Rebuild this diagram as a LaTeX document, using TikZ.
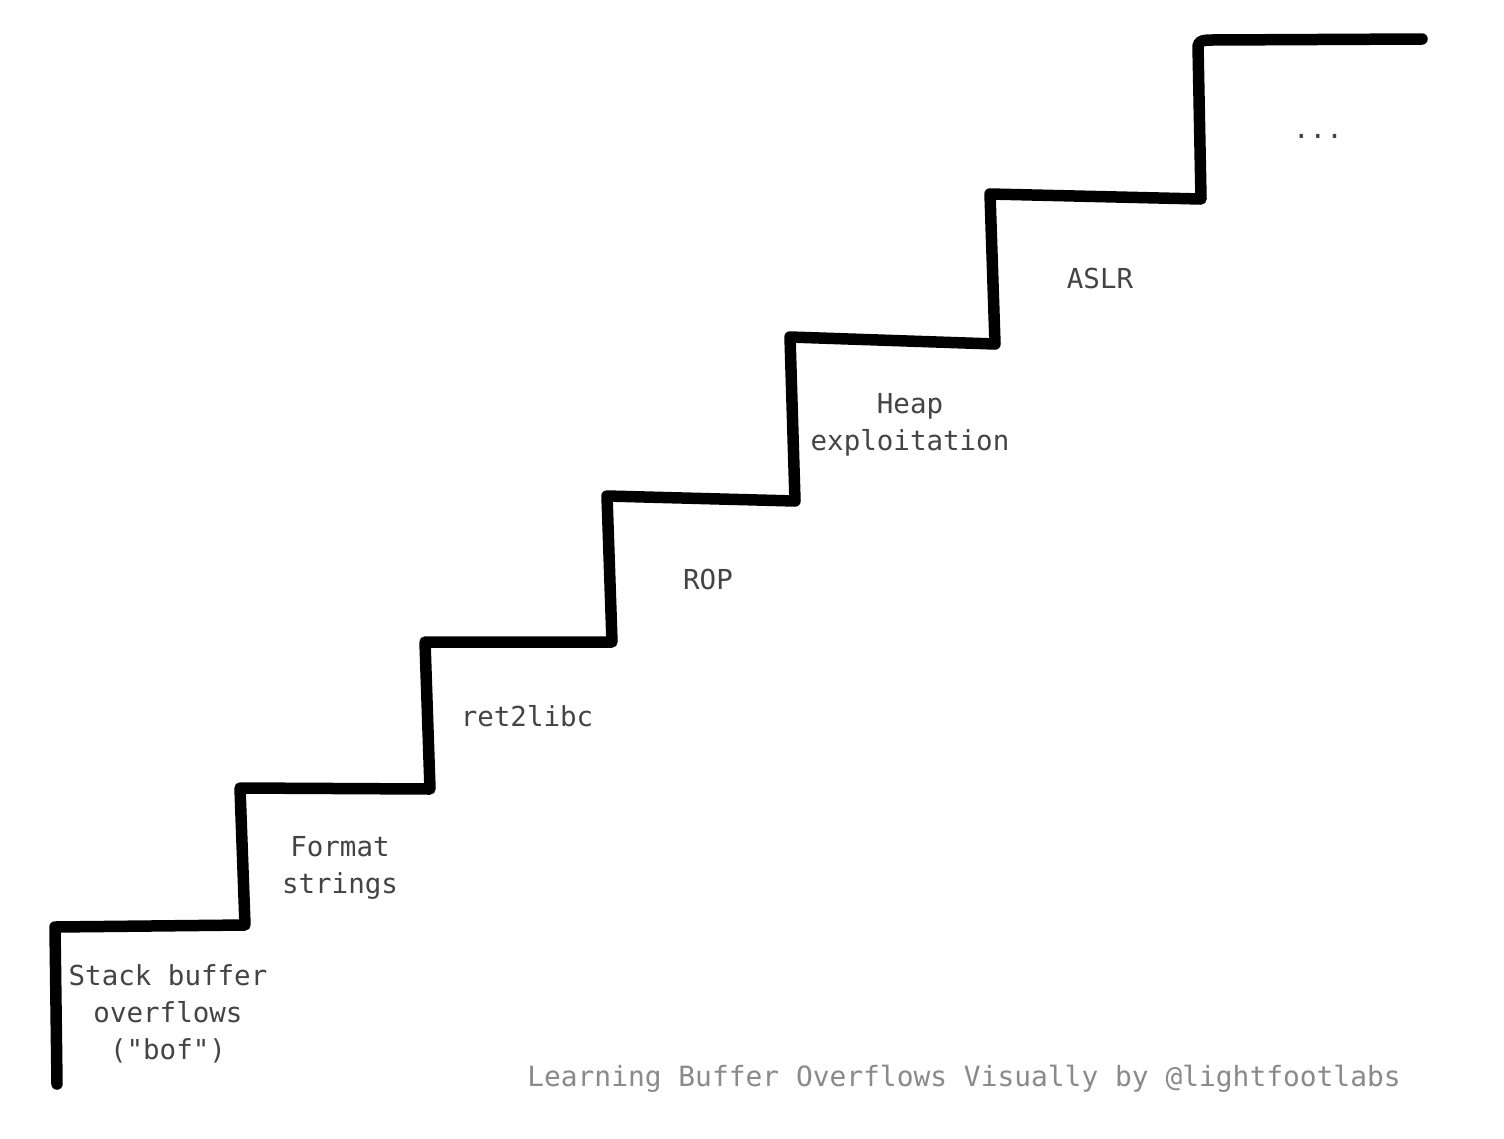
\documentclass[tikz,border=0pt]{standalone}
\usepackage{fontspec}
\setmonofont{DejaVu Sans Mono}
\definecolor{labelgray}{HTML}{444444}
\definecolor{footgray}{HTML}{8A8A8A}
\begin{document}
\begin{tikzpicture}[x=1pt,y=-1pt,
  stair/.style={line width=11.5pt,line cap=round,line join=round,black},
  lbl/.style={font=\ttfamily\fontsize{27.5}{37}\selectfont,text=labelgray,align=center,inner sep=0pt},
  foot/.style={font=\ttfamily\fontsize{27.9}{37}\selectfont,text=footgray,inner sep=0pt}]
\useasboundingbox[fill=white] (0,0) rectangle (1504,1138);
\draw[stair] (57,1084) -- (55,927) -- (245,925) -- (240,788) -- (430,789)
  -- (425,642) -- (612,642) -- (607,496) -- (795,501) -- (790,337)
  -- (995,344) -- (990,194) -- (1201,199) -- (1198,46) to[out=90,in=180] (1212,40) -- (1422,39);
\node[lbl] (bof) at (168,1014) {Stack buffer\\overflows\\("bof")};
\node[lbl] (fmt) at (340,868) {Format\\strings};
\node[lbl] (r2l) at (527,716) {ret2libc};
\node[lbl] (rop) at (708,579) {ROP};
\node[lbl] (heap) at (910,425) {Heap\\exploitation};
\node[lbl] (aslr) at (1100,278) {ASLR};
\node[lbl] (dots) at (1318,136) {...};
\node[foot] (credit) at (964,1079) {Learning Buffer Overflows Visually by @lightfootlabs};
\end{tikzpicture}
\end{document}
